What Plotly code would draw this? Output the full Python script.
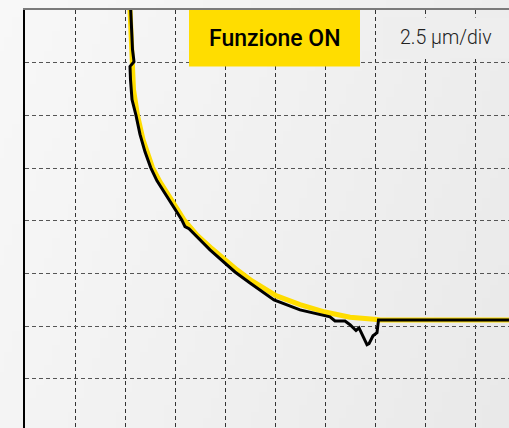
import zlib, struct, base64
import plotly.graph_objects as go

# Data in grid-division units (x: divisions from left axis, y: divisions from bottom)
measured_x = [2.114, 2.13, 2.15, 2.18, 2.10, 2.11, 2.14, 2.22, 2.30, 2.40, 2.514, 2.64, 2.86,
              3.134, 3.20, 3.28, 3.70, 4.20, 4.50, 4.98, 5.50, 5.98, 6.10, 6.20, 6.40, 6.50,
              6.62, 6.68, 6.84, 6.88, 6.96, 7.04, 7.07, 7.10, 9.68]
measured_y = [8.01, 7.63, 7.25, 7.02, 6.93, 6.68, 6.30, 6.00, 5.64, 5.31, 5.01, 4.76, 4.42,
              4.02, 3.89, 3.85, 3.45, 3.03, 2.82, 2.50, 2.31, 2.20, 2.18, 2.10, 2.10, 2.03,
              1.92, 1.97, 1.65, 1.67, 1.82, 1.88, 2.12, 2.12, 2.12]

reference_x = [2.10, 2.12, 2.14, 2.17, 2.25, 2.36, 2.55, 2.70, 2.90, 3.18, 3.44, 3.74, 4.24,
               4.54, 5.02, 5.50, 6.00, 6.50, 7.04, 7.10, 9.68]
reference_y = [8.01, 7.44, 7.00, 6.49, 6.00, 5.54, 5.01, 4.74, 4.44, 4.02, 3.73, 3.47, 3.07,
               2.86, 2.58, 2.41, 2.27, 2.17, 2.13, 2.12, 2.12]

title_text = "Funzione ON"
scale_text = "2.5 µm/div"


def gradient_png(w, h):
    rows = []
    for j in range(h):
        row = bytearray([0])
        for i in range(w):
            u = i / (w - 1)
            v = j / (h - 1)
            c = int(round(248 - 11 * u - 4 * v))
            row += bytes([c, c, c])
        rows.append(bytes(row))
    raw = b"".join(rows)

    def chunk(t, d):
        return struct.pack(">I", len(d)) + t + d + struct.pack(">I", zlib.crc32(t + d) & 0xffffffff)

    png = b"\x89PNG\r\n\x1a\n" + chunk(b"IHDR", struct.pack(">IIBBBBB", w, h, 8, 2, 0, 0, 0)) \
        + chunk(b"IDAT", zlib.compress(raw)) + chunk(b"IEND", b"")
    return "data:image/png;base64," + base64.b64encode(png).decode()


fig = go.Figure()
fig.add_trace(go.Scatter(x=reference_x, y=reference_y, mode="lines",
                         line=dict(color="#FFDD00", width=5), hoverinfo="skip"))
fig.add_trace(go.Scatter(x=measured_x, y=measured_y, mode="lines",
                         line=dict(color="#000000", width=3), hoverinfo="skip"))

W, H = 509, 428
ml, mt = 25, 10
pw, ph = W - ml, H - mt

fig.add_layout_image(dict(source=gradient_png(64, 64), xref="paper", yref="paper",
                          x=-ml / pw, y=1 + mt / ph, sizex=W / pw, sizey=H / ph,
                          sizing="stretch", layer="below"))

# yellow label box
fig.add_shape(type="rect", x0=3.28, x1=6.70, y0=6.93, y1=8.0, xref="x", yref="y",
              fillcolor="#FFDD00", line=dict(width=0), layer="above")
# light box behind scale text
fig.add_shape(type="rect", x0=7.16, x1=9.68, y0=7.08, y1=7.86, xref="x", yref="y",
              fillcolor="#eeeeee", line=dict(width=0), layer="between")

fig.add_annotation(x=4.99, y=7.46, xref="x", yref="y", text=title_text, showarrow=False,
                   font=dict(family="Roboto", size=23, color="#000000", weight=500))
fig.add_annotation(x=8.42, y=7.47, xref="x", yref="y", text=scale_text, showarrow=False,
                   font=dict(family="Roboto", size=19.5, color="#222222", weight=300))

fig.update_layout(
    width=W, height=H,
    margin=dict(l=ml, r=0, t=mt, b=0),
    paper_bgcolor="#f3f3f3", plot_bgcolor="rgba(0,0,0,0)",
    showlegend=False,
    xaxis=dict(range=[0, 9.68], tick0=0, dtick=1, showticklabels=False, ticks="",
               showgrid=True, gridcolor="#333333", gridwidth=1, griddash="4px,3px",
               zeroline=False, showline=True, side="top", linecolor="#7a7a7a", linewidth=2,
               fixedrange=True),
    yaxis=dict(range=[0.07, 8], tick0=0, dtick=1, showticklabels=False, ticks="",
               showgrid=True, gridcolor="#555555", gridwidth=1, griddash="4px,3px",
               zeroline=False, showline=True, linecolor="#000000", linewidth=2,
               fixedrange=True),
)

fig.write_html("out.html", config={"displayModeBar": False},
               post_script="document.body.style.margin='0';document.body.style.overflow='hidden';")
